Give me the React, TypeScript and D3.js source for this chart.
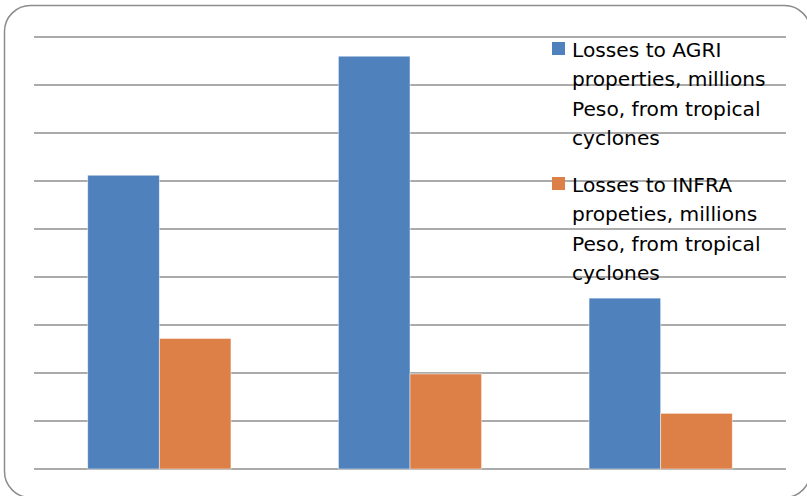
import React from "react";
import * as d3 from "d3";

// Tropical cyclone losses, three periods, two series
const categories = ["1", "2", "3"];
const seriesNames = ["agri", "infra"];
const agriLosses = [6.12, 8.6, 3.56];
const infraLosses = [2.72, 1.98, 1.16];
const yTicks = [0, 1, 2, 3, 4, 5, 6, 7, 8, 9];
const legendAgri = ["Losses to AGRI", "properties, millions", "Peso, from tropical", "cyclones"];
const legendInfra = ["Losses to INFRA", "propeties, millions", "Peso, from tropical", "cyclones"];

const colors = ["#4F81BD", "#DD8047"];

export default function App() {
  const W = 807;
  const H = 496;
  const left = 34;
  const right = 786;
  const top = 37;
  const bottom = 469;

  const x = d3.scaleBand<string>().domain(categories).range([left, right]).paddingInner(0).paddingOuter(0);
  const xs = d3
    .scaleBand<string>()
    .domain(seriesNames)
    .range([0, x.bandwidth()])
    .paddingInner(0)
    .paddingOuter(0.75);
  const y = d3.scaleLinear().domain([0, 9]).range([bottom, top]);

  const series = [agriLosses, infraLosses];
  const legends = [legendAgri, legendInfra];
  const legendY = [57, 192];
  const lineH = 29.3;

  return (
    <svg
      width={W}
      height={H}
      style={{ position: "absolute", left: 0, top: 0, display: "block" }}
      fontFamily="'DejaVu Sans', sans-serif"
    >
      <rect x={0} y={0} width={W} height={H} fill="#ffffff" />
      <rect x={4.5} y={5.5} width={806} height={492} rx={26} ry={26} fill="#ffffff" stroke="#8c8c8c" strokeWidth={1.5} />
      {yTicks.map((t) => (
        <line key={t} x1={left} x2={right} y1={y(t)} y2={y(t)} stroke="#8f8f8f" strokeWidth={1.6} />
      ))}
      {series.map((vals, si) =>
        vals.map((v, ci) => (
          <rect
            key={`${si}-${ci}`}
            x={(x(categories[ci]) ?? 0) + (xs(seriesNames[si]) ?? 0)}
            y={y(v)}
            width={xs.bandwidth()}
            height={y(0) - y(v)}
            fill={colors[si]}
            stroke="#ffffff"
            strokeOpacity={0.6}
            strokeWidth={0.8}
          />
        ))
      )}
      {legends.map((lines, li) => (
        <g key={li}>
          <rect x={552} y={legendY[li] - 15} width={13} height={13} fill={colors[li]} />
          {lines.map((s, k) => (
            <text key={k} x={572} y={legendY[li] + k * lineH} fontSize={20.2} fill="#000000">
              {s}
            </text>
          ))}
        </g>
      ))}
    </svg>
  );
}
